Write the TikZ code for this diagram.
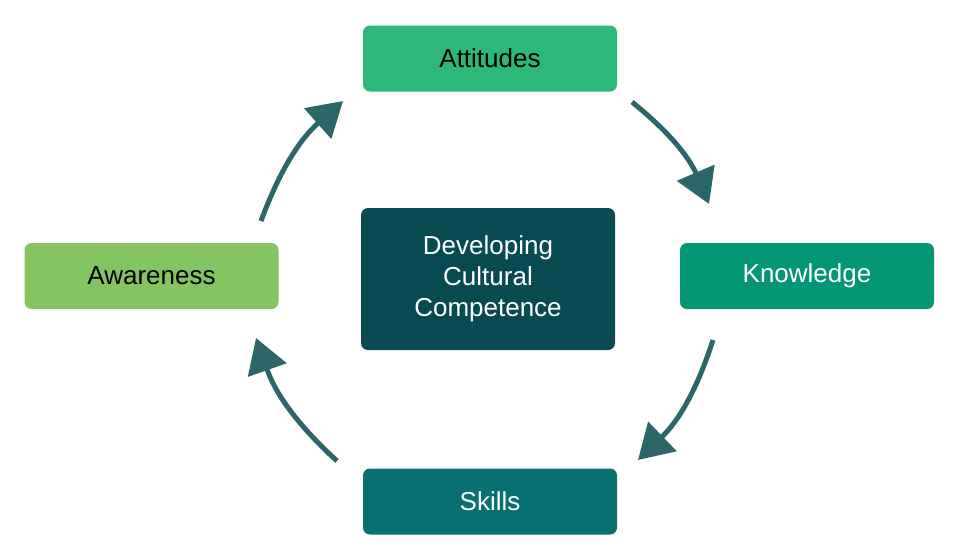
\documentclass[tikz,border=0pt]{standalone}
\usepackage{fontspec}
\setmainfont{Liberation Sans}
\usetikzlibrary{arrows.meta}
\definecolor{cA}{HTML}{2DB87A}
\definecolor{cK}{HTML}{039676}
\definecolor{cS}{HTML}{087070}
\definecolor{cW}{HTML}{84C462}
\definecolor{cC}{HTML}{084A52}
\definecolor{cArr}{HTML}{2B6669}
\begin{document}
\begin{tikzpicture}[x=1pt,y=-1pt,
  box/.style={rounded corners=7pt,minimum width=254pt,minimum height=66pt,inner sep=0pt,align=center,font=\fontsize{26}{31}\selectfont},
  arr/.style={draw=cArr,line width=5pt,-{Triangle[length=34pt,width=40pt]}}]
\useasboundingbox (0,0) rectangle (960,552);
\node[box,fill=cA,text=black] (att) at (490,58.5) {Attitudes};
\node[box,fill=cK,text=white] (kno) at (807,276) {Knowledge};
\node[box,fill=cS,text=white] (ski) at (490,501.5) {Skills};
\node[box,fill=cW,text=black] (awa) at (151.5,276) {Awareness};
\node[box,fill=cC,text=white,minimum height=142pt] (cen) at (488,279) {Developing\\Cultural\\Competence};
\coordinate (a1) at (261,221); \coordinate (b1) at (343,101);
\coordinate (a2) at (632,102); \coordinate (b2) at (709,204);
\coordinate (a3) at (713,340); \coordinate (b3) at (638,460);
\coordinate (a4) at (337,461); \coordinate (b4) at (256,338);
\draw[arr] (a1) to[bend left=14] (b1);
\draw[arr] (a2) to[bend left=14] (b2);
\draw[arr] (a3) to[bend left=14] (b3);
\draw[arr] (a4) to[bend left=14] (b4);
\end{tikzpicture}
\end{document}
